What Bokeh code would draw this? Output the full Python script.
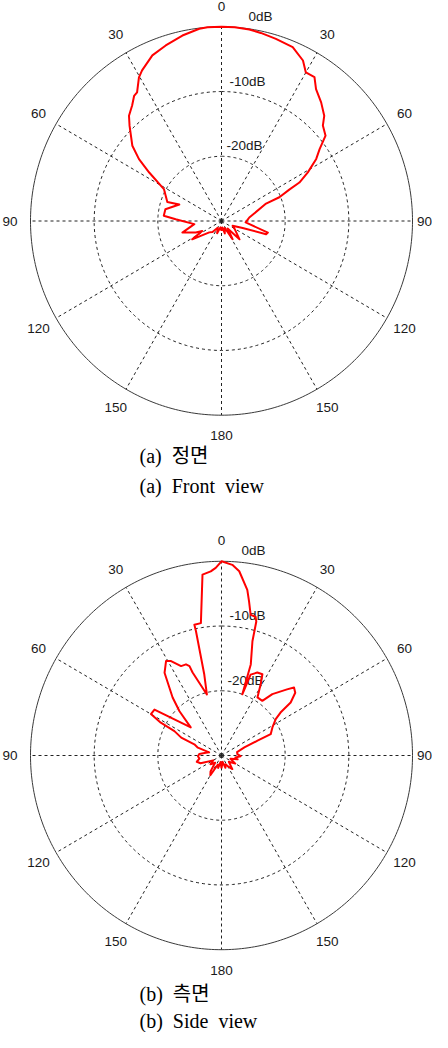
import numpy as np
from bokeh.plotting import figure
from bokeh.models import Range1d
from bokeh.core.properties import value
from bokeh.embed import file_html
from bokeh.resources import INLINE

# ---------------- data ----------------
# (a) front view: angle (deg, 0 = top, positive = clockwise) and level (dB)
front_angle = [-180, -170, -160, -150, -140, -132.5, -121.6, -117, -113.7, -106.2,
               -96.5, -87.8, -84.9, -78.3, -69, -71, -61.4, -56.6, -53.6, -50.3,
               -44.5, -41.8, -38.2, -35.4, -33.7, -30.3, -28.2, -23, -17.9, -12.1,
               -6.7, -4.2, 0, 4, 8.4, 12, 16.9, 22.6, 27.3, 30,
               33.3, 36.1, 40.5, 44.8, 47.2, 51.1, 54.2, 57.2, 61, 64.1,
               65.5, 68, 69, 82.9, 93.4, 103.8, 106.3, 108, 113, 122,
               135, 140, 148, 155, 165, 172, 180]
front_db = [-28.5, -29.0, -28.0, -28.8, -27.8, -27.4, -24.6, -26.6, -25.6, -23.6,
            -25.7, -22.8, -20.9, -21.0, -22.9, -21.0, -19.7, -16.4, -13.9, -11.8,
            -9.4, -8.2, -7.3, -6.3, -6.1, -4.3, -3.6, -2.2, -1.5, -0.7,
            -0.1, 0.0, 0.0, 0.0, -0.1, -0.3, -0.6, -0.9, -2.1, -3.5,
            -3.4, -4.8, -5.9, -7.1, -8.3, -9.0, -11.0, -12.3, -14.5, -16.4,
            -18.3, -20.2, -22.5, -25.6, -26.2, -22.5, -22.7, -26.5, -28.1, -27.5,
            -26.0, -28.5, -26.7, -28.8, -28.0, -29.0, -28.5]

# (b) side view
side_angle = [-180, -172, -165, -158, -150, -145, -138, -128, -120, -110,
              -104, -98, -92, -86, -80, -76, -72, -68, -66.4, -63,
              -62, -60, -56, -48, -44, -40.6, -35, -30.8, -28.5, -24.7,
              -21.6, -20, -19.5, -13.7, -12.2, -11.8, -11.9, -9, -6.1, -3.4,
              -1.8, 0, 3.3, 5.6, 9.0, 10.3, 11.9, 14.0, 14.8, 15.4,
              18.1, 19.1, 20.1, 23.7, 27.1, 29.2, 32.2, 37.2, 40.1, 45.2,
              47.3, 50.1, 53, 54.4, 56.6, 61.5, 66.9, 68, 70.9, 78,
              85, 92, 98, 103, 110, 120, 130, 141, 148, 155,
              162, 170, 180]
side_db = [-28.0, -29.0, -28.0, -28.5, -26.5, -27.0, -28.5, -27.8, -28.5, -26.5,
           -26.0, -26.5, -26.3, -26.5, -27.5, -28.0, -26.1, -25.4, -23.1, -21.7,
           -19.2, -17.2, -17.3, -23.5, -20.5, -18.2, -14.4, -13.0, -13.4, -14.8,
           -14.85, -15.3, -16.4, -20.3, -17.2, -10.4, -9.35, -9.3, -1.9, -1.5,
           -1.0, 0.0, -0.5, -1.4, -4.1, -5.8, -7.8, -7.9, -8.6, -11.7,
           -15.2, -20.0, -16.7, -16.0, -15.9, -17.4, -19.4, -19.4, -17.6, -15.5,
           -14.5, -14.9, -16.4, -18.6, -19.8, -20.9, -21.6, -23.9, -26.2, -27.5,
           -27.5, -27.0, -27.8, -27.4, -28.5, -27.5, -28.5, -27.3, -28.0, -28.5,
           -28.0, -29.0, -28.0]

ring_db = [0, -10, -20]
ring_labels = ["0dB", "-10dB", "-20dB"]
spoke_angles = [0, 30, 60, 90, 120, 150, 180, 210, 240, 270, 300, 330]
angle_labels = ["0", "30", "60", "90", "120", "150", "180", "150", "120", "90", "60", "30"]
captions_ko = ["(a)\u00a0\u00a0정면", "(b)\u00a0\u00a0측면"]
captions_en = ["(a)\u00a0\u00a0Front\u00a0\u00a0view", "(b)\u00a0\u00a0Side\u00a0\u00a0view"]
DB_MIN = -30.0

# ---------------- geometry / style ----------------
SX = 191.0 / 30.0    # px per radial unit, horizontal
SY = 194.2 / 30.0    # px per radial unit, vertical
CX_PX = 229.0
C2_PX = 763.0

def X(px):
    return (px - CX_PX) / SX

def Y(py):
    return (C2_PX - py) / SY

centers = [(0.0, Y(228.5)), (0.0, 0.0)]
rmax = -DB_MIN

p = figure(width=432, height=1032, output_backend="svg", toolbar_location=None,
           x_range=Range1d(X(8), X(440)), y_range=Range1d(Y(1040), Y(8)),
           min_border=0)
p.axis.visible = False
p.grid.visible = False
p.outline_line_color = None
p.background_fill_color = "white"

sans = value("Liberation Sans")
serif = value("Liberation Serif, Noto Sans CJK KR")
grid_col = "#222222"

t = np.linspace(0, 2 * np.pi, 361)
patterns = [(front_angle, front_db), (side_angle, side_db)]
db_label_left_px = [[256, 237, 234], [249, 237, 235]]

for k, (cx, cy) in enumerate(centers):
    # dashed rings
    for db in ring_db[1:]:
        r = db - DB_MIN
        p.line(cx + r * np.sin(t), cy + r * np.cos(t), line_color=grid_col,
               line_width=1, line_dash="3 3")
    # spokes
    for a in spoke_angles:
        th = np.deg2rad(a)
        p.line([cx, cx + rmax * np.sin(th)], [cy, cy + rmax * np.cos(th)],
               line_color=grid_col, line_width=1, line_dash="3 3")
    # outer circle
    p.line(cx + rmax * np.sin(t), cy + rmax * np.cos(t), line_color="#3a3a3a",
           line_width=1)
    # angle labels (the right-hand "90" is kept inside the page edge)
    lr = 1.107 * rmax
    th = np.deg2rad(spoke_angles)
    lx = list(cx + lr * np.sin(th))
    ly = list(cy + lr * np.cos(th))
    keep = [i for i, a in enumerate(spoke_angles) if a != 90]
    p.text(x=[lx[i] for i in keep], y=[ly[i] for i in keep],
           text=[angle_labels[i] for i in keep],
           text_align="center", text_baseline="middle", text_font=sans,
           text_font_size="13.5px", text_color="#1a1a1a")
    i90 = spoke_angles.index(90)
    p.text(x=[X(439.5)], y=[ly[i90]], text=[angle_labels[i90]],
           text_align="right", text_baseline="middle", text_font=sans,
           text_font_size="13.5px", text_color="#1a1a1a")
    # ring labels
    rx = [X(v) for v in db_label_left_px[k]]
    ry = [cy + (db - DB_MIN) + 10.5 / SY for db in ring_db]
    p.text(x=rx, y=ry, text=ring_labels, text_align="left", text_baseline="middle",
           text_font=sans, text_font_size="13.5px", text_color="#1a1a1a")
    # pattern
    ang, lev = patterns[k]
    rr = np.clip(np.array(lev) - DB_MIN, 0, None)
    th = np.deg2rad(np.array(ang))
    p.line(cx + rr * np.sin(th), cy + rr * np.cos(th), line_color="#ff0000",
           line_width=2, line_join="round")

# captions
cap_y_ko = [Y(463), Y(1001)]
cap_y_en = [Y(493), Y(1028)]
p.text(x=[X(147)] * 2, y=cap_y_ko, text=captions_ko, text_align="left",
       text_baseline="middle", text_font=serif, text_font_size="20px", text_color="black")
p.text(x=[X(147)] * 2, y=cap_y_en, text=captions_en, text_align="left",
       text_baseline="middle", text_font=serif, text_font_size="20px", text_color="black")

open("out.html", "w").write(file_html(p, INLINE))
